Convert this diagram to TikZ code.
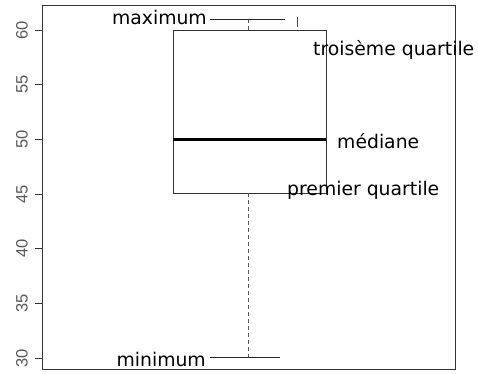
\documentclass[tikz,border=0pt]{standalone}
\usepackage{fontspec}
\setmainfont{DejaVu Sans}
\newfontfamily\axisfont{Liberation Sans}

\begin{document}
\begin{tikzpicture}[x=1pt,y=-1pt]
        \tikzset{note/.style = {font=\fontsize{18.8}{20}\selectfont, inner sep=0pt}};
        \tikzset{ticklabel/.style = {font=\axisfont\fontsize{16.5}{18}\selectfont, rotate=90, inner sep=0pt, text=black!65}};
        \tikzset{whisker/.style = {black!65, line width=0.9pt, dash pattern=on 4pt off 3pt}};
        \useasboundingbox (0,0) rectangle (478,373);
        \draw[black!80] (42,5) rectangle (455,369);
        \foreach \v in {30,35,...,60}
            \draw[black!80] (35,{686-10.933*\v}) -- (42,{686-10.933*\v})
                node[ticklabel] (t\v) at (22,{686-10.933*\v}) {\v};
        \coordinate (q3l) at (173,30);
        \coordinate (q3r) at (326,30);
        \coordinate (q1l) at (173,193);
        \coordinate (q1r) at (326,193);
        \coordinate (medl) at (173,139);
        \coordinate (medr) at (326,139);
        \coordinate (top) at (248,19);
        \coordinate (bot) at (248,357);
        \coordinate (maxl) at (210,19);
        \coordinate (maxr) at (285,19);
        \coordinate (minl) at (210,357);
        \coordinate (minr) at (280,357);
        \draw[black!80] (q1l) rectangle (q3r);
        \draw[line width=3pt] (medl) -- (medr);
        \draw[whisker] (top) -- (top |- q3l);
        \draw[whisker] (top |- q1l) -- (bot);
        \node[note, anchor=mid east] (max) at (207,22) {maximum};
        \node[note, anchor=mid east] (min) at (206,364) {minimum};
        \node[note, anchor=mid west] (q3) at (313,53) {troisème quartile};
        \node[note, anchor=mid west] (med) at (337,146) {médiane};
        \node[note, anchor=mid west] (q1) at (287,193) {premier quartile};
        \draw[black!85] (maxl) -- (maxr);
        \draw[black!85] (minl) -- (minr);
        \draw[black!70] (297,17) -- (297,27);
    \end{tikzpicture}
\end{document}
